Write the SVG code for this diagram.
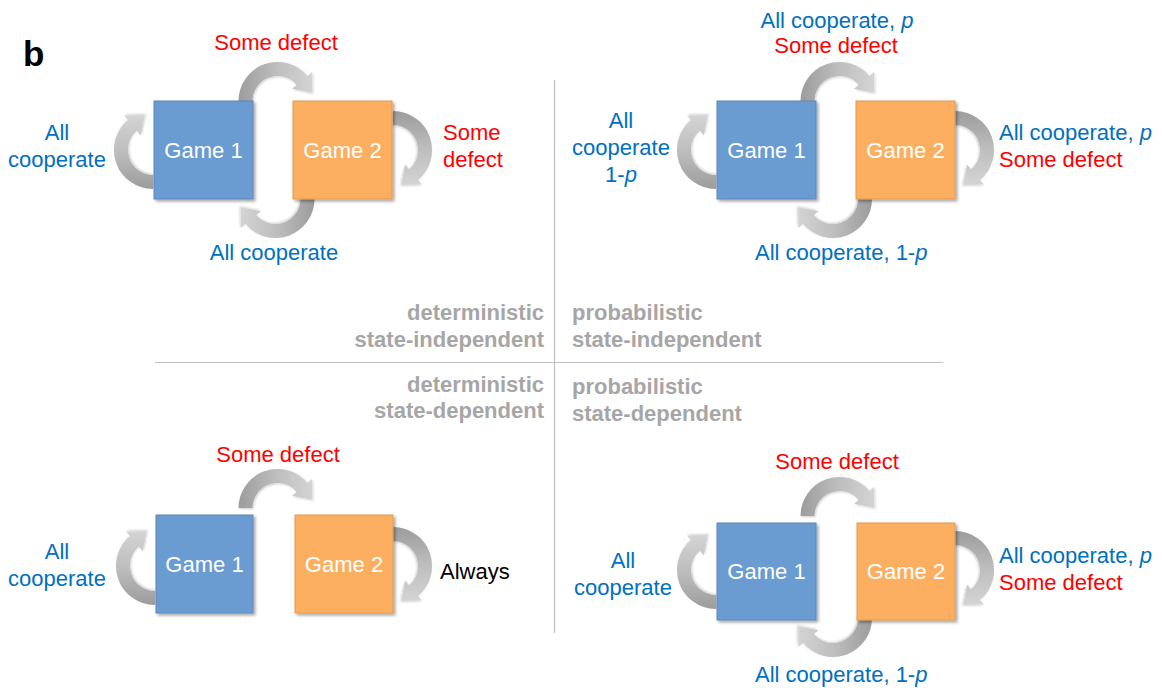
<svg xmlns="http://www.w3.org/2000/svg" xmlns:xlink="http://www.w3.org/1999/xlink" width="1162" height="688" viewBox="0 0 1162 688">
<style>
text{font-family:"Liberation Sans",Arial,sans-serif;font-size:22px}
.blue{fill:#0070c0}
.red{fill:#ff0000}
.blk{fill:#000}
.cat{fill:#a6a6a6;font-weight:bold}
.gt{fill:#fff;text-anchor:middle}
.mid{text-anchor:middle}
.end{text-anchor:end}
.g1{fill:#6a9bd1;stroke:#5a88bd;stroke-width:1}
.g2{fill:#fcaf60;stroke:#e59a4e;stroke-width:1}
.div{stroke:#bfbfbf;stroke-width:1.2}
.arr{fill:url(#ag);filter:url(#ash)}
</style>
<defs>
<linearGradient id="ag" x1="0" y1="0" x2="1" y2="0">
<stop offset="0" stop-color="#9c9c9c"/>
<stop offset="0.5" stop-color="#bdbdbd"/>
<stop offset="1" stop-color="#d4d4d4"/>
</linearGradient>
<filter id="sh" x="-10%" y="-10%" width="130%" height="130%">
<feDropShadow dx="2" dy="2" stdDeviation="1.5" flood-color="#000" flood-opacity="0.35"/>
</filter>
<filter id="ash" x="-20%" y="-20%" width="140%" height="140%">
<feDropShadow dx="1" dy="1" stdDeviation="1" flood-color="#000" flood-opacity="0.2"/>
</filter>
<path id="carrow" d="M -39 0 A 39 39 0 0 1 29.88 -25.07 L 34.47 -28.93 L 34.8 -8.3 L 14.55 -12.21 L 19.15 -16.07 A 25 25 0 0 0 -25 0 Z"/>
</defs>

<text x="23" y="66" style="font-size:35px;font-weight:bold" class="blk">b</text>

<g id="dividers">
<line class="div" x1="554.5" y1="80" x2="554.5" y2="633"/>
<line class="div" x1="155" y1="362.5" x2="943" y2="362.5"/>
</g>

<g id="categories">
<text class="cat end" x="544" y="320">deterministic</text>
<text class="cat end" x="544" y="347">state-independent</text>
<text class="cat" x="572" y="320">probabilistic</text>
<text class="cat" x="572" y="347">state-independent</text>
<text class="cat end" x="544" y="392">deterministic</text>
<text class="cat end" x="544" y="418">state-dependent</text>
<text class="cat" x="572" y="394">probabilistic</text>
<text class="cat" x="572" y="421">state-dependent</text>
</g>

<g id="connectors">
<!-- top-left panel -->
<use href="#carrow" class="arr" transform="translate(277.5,101)"/>
<use href="#carrow" class="arr" transform="translate(275.5,199) rotate(180)"/>
<use href="#carrow" class="arr" transform="translate(153,150) rotate(-90)"/>
<use href="#carrow" class="arr" transform="translate(393,150) rotate(90)"/>
<!-- top-right panel -->
<use href="#carrow" class="arr" transform="translate(839.5,101)"/>
<use href="#carrow" class="arr" transform="translate(833,199) rotate(180)"/>
<use href="#carrow" class="arr" transform="translate(716,150) rotate(-90)"/>
<use href="#carrow" class="arr" transform="translate(955,150) rotate(90)"/>
<!-- bottom-left panel -->
<use href="#carrow" class="arr" transform="translate(277.5,508)"/>
<use href="#carrow" class="arr" transform="translate(155,566) rotate(-90)"/>
<use href="#carrow" class="arr" transform="translate(393,566) rotate(90)"/>
<!-- bottom-right panel -->
<use href="#carrow" class="arr" transform="translate(839.5,516)"/>
<use href="#carrow" class="arr" transform="translate(833,618) rotate(180)"/>
<use href="#carrow" class="arr" transform="translate(716,570) rotate(-90)"/>
<use href="#carrow" class="arr" transform="translate(955,570) rotate(90)"/>
</g>

<g id="tl-game1"><rect class="g1" x="154" y="101" width="99" height="98" filter="url(#sh)"/><text class="gt" x="203.5" y="158">Game 1</text></g>
<g id="tl-game2"><rect class="g2" x="293" y="101" width="99" height="98" filter="url(#sh)"/><text class="gt" x="342.5" y="158">Game 2</text></g>
<g id="tr-game1"><rect class="g1" x="717" y="101" width="99" height="98" filter="url(#sh)"/><text class="gt" x="766.5" y="158">Game 1</text></g>
<g id="tr-game2"><rect class="g2" x="856" y="101" width="99" height="98" filter="url(#sh)"/><text class="gt" x="905.5" y="158">Game 2</text></g>
<g id="bl-game1"><rect class="g1" x="156" y="515" width="97" height="98" filter="url(#sh)"/><text class="gt" x="204.5" y="572">Game 1</text></g>
<g id="bl-game2"><rect class="g2" x="295" y="515" width="98" height="98" filter="url(#sh)"/><text class="gt" x="344" y="572">Game 2</text></g>
<g id="br-game1"><rect class="g1" x="717" y="523" width="99" height="97" filter="url(#sh)"/><text class="gt" x="766.5" y="579">Game 1</text></g>
<g id="br-game2"><rect class="g2" x="857" y="523" width="98" height="97" filter="url(#sh)"/><text class="gt" x="906" y="579">Game 2</text></g>

<g id="labels">
<!-- top-left -->
<text class="red mid" x="276" y="50">Some defect</text>
<text class="blue mid" x="274" y="260">All cooperate</text>
<text class="blue mid" x="57" y="140">All</text>
<text class="blue mid" x="57" y="167">cooperate</text>
<text class="red" x="443" y="140">Some</text>
<text class="red" x="443" y="167">defect</text>
<!-- top-right -->
<text class="blue mid" x="837" y="28">All cooperate, <tspan font-style="italic">p</tspan></text>
<text class="red mid" x="836" y="53">Some defect</text>
<text class="blue mid" x="621" y="128">All</text>
<text class="blue mid" x="621" y="155">cooperate</text>
<text class="blue mid" x="621" y="182">1-<tspan font-style="italic">p</tspan></text>
<text class="blue" x="999" y="140">All cooperate, <tspan font-style="italic">p</tspan></text>
<text class="red" x="999" y="167">Some defect</text>
<text class="blue" x="755" y="260">All cooperate, 1-<tspan font-style="italic">p</tspan></text>
<!-- bottom-left -->
<text class="red mid" x="278" y="462">Some defect</text>
<text class="blue mid" x="57" y="559">All</text>
<text class="blue mid" x="57" y="586">cooperate</text>
<text class="blk" x="440" y="579">Always</text>
<!-- bottom-right -->
<text class="red mid" x="837" y="469">Some defect</text>
<text class="blue mid" x="623" y="568">All</text>
<text class="blue mid" x="623" y="595">cooperate</text>
<text class="blue" x="999" y="563">All cooperate, <tspan font-style="italic">p</tspan></text>
<text class="red" x="999" y="590">Some defect</text>
<text class="blue" x="755" y="682">All cooperate, 1-<tspan font-style="italic">p</tspan></text>
</g>
</svg>
